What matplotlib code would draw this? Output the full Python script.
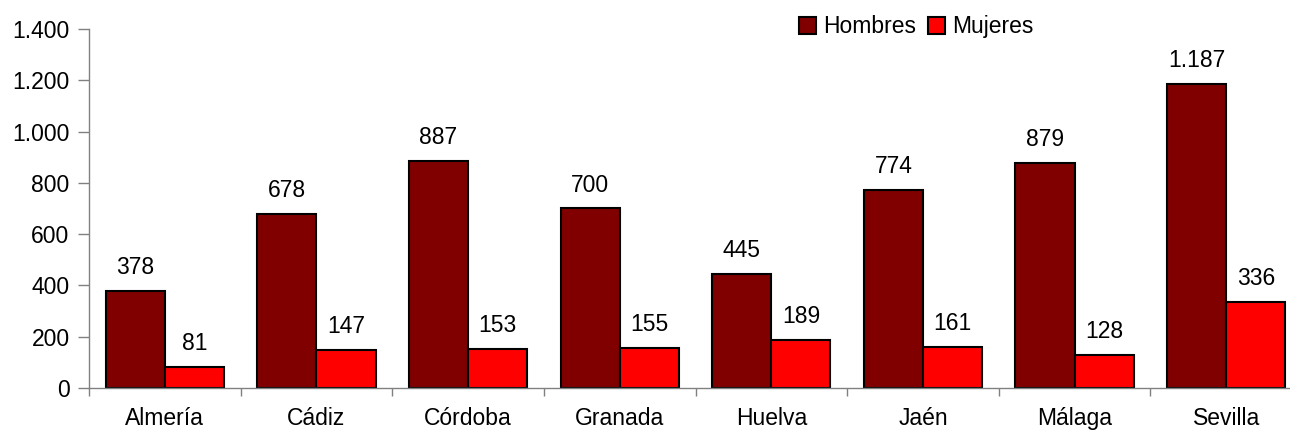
import matplotlib

matplotlib.use("Agg")
import matplotlib.pyplot as plt  # noqa: E402
from matplotlib.patches import Patch  # noqa: E402

plt.rcParams["font.family"] = ["Liberation Sans", "DejaVu Sans"]

PROVINCIAS = ["Almería", "Cádiz", "Córdoba", "Granada", "Huelva", "Jaén",
              "Málaga", "Sevilla"]
HOMBRES = [378, 678, 887, 700, 445, 774, 879, 1187]
MUJERES = [81, 147, 153, 155, 189, 161, 128, 336]
Y_TICKS = [0, 200, 400, 600, 800, 1000, 1200, 1400]

C_H, C_M = "#800000", "#ff0000"
GREY = "#808080"
FS = 16.5
W = 0.39


def fmt(v):
    return f"{v:,}".replace(",", ".")


def main():
    fig = plt.figure(figsize=(12.9, 4.3), dpi=100)
    # right edge deliberately beyond the figure (the reference is cropped)
    ax = fig.add_axes([89 / 1290, 42 / 430, (1302 - 89) / 1290, 359 / 430])

    x = list(range(len(PROVINCIAS)))
    ax.bar([i - W / 2 for i in x], HOMBRES, W, color=C_H, edgecolor="k", lw=1.5)
    ax.bar([i + W / 2 for i in x], MUJERES, W, color=C_M, edgecolor="k", lw=1.5)

    for i, (h, m) in enumerate(zip(HOMBRES, MUJERES)):
        for xi, v in ((i - W / 2, h), (i + W / 2, m)):
            ax.annotate(fmt(v), (xi, v), xytext=(0, 12.2), textcoords="offset points",
                        ha="center", va="baseline", fontsize=FS)

    ax.set_xlim(-0.5, len(PROVINCIAS) - 0.5)
    ax.set_ylim(0, 1400)
    ax.set_yticks(Y_TICKS)
    ax.set_yticklabels([fmt(t) for t in Y_TICKS], fontsize=FS)
    ax.set_xticks(x)
    ax.set_xticklabels(PROVINCIAS, fontsize=FS)
    ax.set_xticks([i - 0.5 for i in range(len(PROVINCIAS) + 1)], minor=True)
    ax.tick_params(axis="x", which="major", length=0, pad=14)
    ax.tick_params(axis="x", which="minor", length=6, width=1, color=GREY)
    ax.tick_params(axis="y", length=8, width=1, color=GREY, pad=6)

    for s in ("top", "right"):
        ax.spines[s].set_visible(False)
    for s in ("left", "bottom"):
        ax.spines[s].set_color(GREY)
        ax.spines[s].set_linewidth(1)

    handles = [Patch(facecolor=C_H, edgecolor="k", lw=1.5, label="Hombres"),
               Patch(facecolor=C_M, edgecolor="k", lw=1.5, label="Mujeres")]
    fig.legend(handles=handles, loc="upper left", ncol=2, frameon=False,
               bbox_to_anchor=(788 / 1290, 1 - 4 / 430), fontsize=FS,
               borderpad=0, handlelength=0.72, handleheight=0.72,
               handletextpad=0.3, columnspacing=0.55)

    fig.savefig("out.png", dpi=100)


if __name__ == "__main__":
    main()
